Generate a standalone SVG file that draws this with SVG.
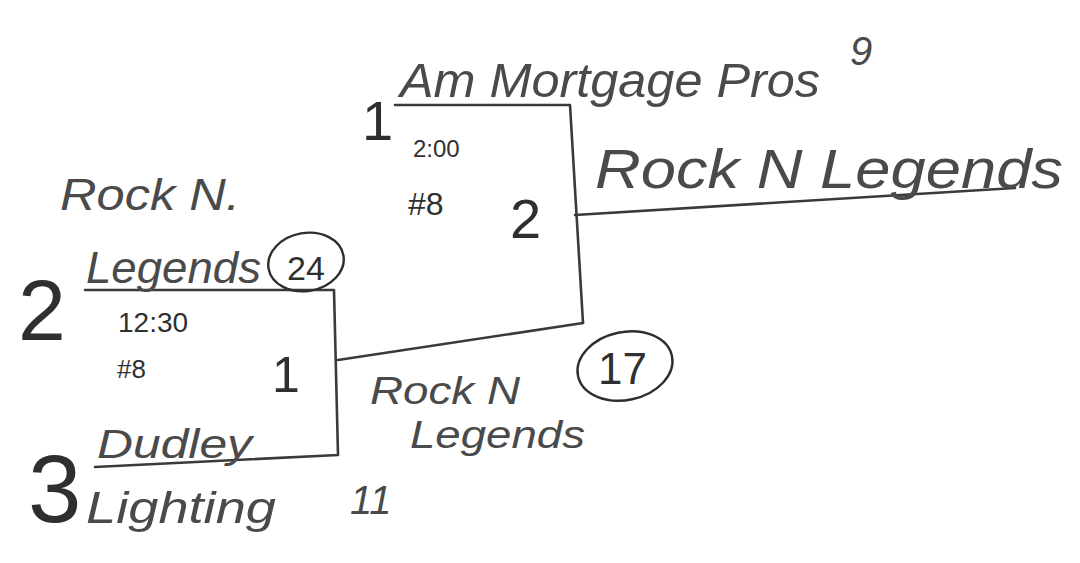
<svg xmlns="http://www.w3.org/2000/svg" width="1080" height="563" viewBox="0 0 1080 563">
<style>
.bg{fill:#ffffff}
.ln{fill:none;stroke:#3a3a3a;stroke-width:2.6;stroke-linecap:round;stroke-linejoin:round}
.ring{fill:none;stroke:#2e2e2e;stroke-width:2.4}
.t{font-family:"Liberation Sans","DejaVu Sans",sans-serif;fill:#4a4a4a;font-style:italic}
.n{font-family:"Liberation Sans","DejaVu Sans",sans-serif;fill:#2f2f2f}
</style>
<rect class="bg" x="0" y="0" width="1080" height="563"/>
<g id="connectors">
<polyline class="ln" points="85,290 334,290 338,455 95,467"/>
<line class="ln" x1="338" y1="360" x2="583" y2="323"/>
<polyline class="ln" points="395,105 570,105 583,323"/>
<line class="ln" x1="575" y1="215" x2="1015" y2="188"/>
</g>
<g id="team-rock-n-legends-1">
<text class="t" x="60" y="210" font-size="44" textLength="180" lengthAdjust="spacingAndGlyphs">Rock N.</text>
<text class="t" x="86" y="283" font-size="44" textLength="175" lengthAdjust="spacingAndGlyphs">Legends</text>
<text class="n" x="18" y="340" font-size="86">2</text>
<ellipse class="ring" cx="306" cy="262" rx="38" ry="29" transform="rotate(-10 306 262)"/>
<text class="n" x="287" y="280" font-size="34">24</text>
</g>
<g id="game-1">
<text class="n" x="118" y="332" font-size="28">12:30</text>
<text class="n" x="117" y="378" font-size="26">#8</text>
<text class="n" x="272" y="392" font-size="50">1</text>
</g>
<g id="team-dudley-lighting">
<text class="n" x="28" y="522" font-size="96">3</text>
<text class="t" x="97" y="458" font-size="40" textLength="155" lengthAdjust="spacingAndGlyphs">Dudley</text>
<text class="t" x="86" y="523" font-size="44" textLength="190" lengthAdjust="spacingAndGlyphs">Lighting</text>
<text class="t" x="350" y="514" font-size="40">11</text>
</g>
<g id="team-rock-n-legends-2">
<text class="t" x="370" y="404" font-size="38" textLength="150" lengthAdjust="spacingAndGlyphs">Rock N</text>
<text class="t" x="410" y="448" font-size="38" textLength="175" lengthAdjust="spacingAndGlyphs">Legends</text>
<ellipse class="ring" cx="625" cy="366" rx="48" ry="34" transform="rotate(-12 625 366)"/>
<text class="n" x="598" y="384" font-size="44">17</text>
</g>
<g id="team-am-mortgage-pros">
<text class="n" x="362" y="140" font-size="56">1</text>
<text class="t" x="400" y="97" font-size="48" textLength="420" lengthAdjust="spacingAndGlyphs">Am Mortgage Pros</text>
<text class="t" x="850" y="65" font-size="40">9</text>
</g>
<g id="game-2">
<text class="n" x="413" y="157" font-size="24">2:00</text>
<text class="n" x="408" y="215" font-size="32">#8</text>
<text class="n" x="510" y="238" font-size="56">2</text>
</g>
<g id="winner-rock-n-legends">
<text class="t" x="595" y="188" font-size="56" textLength="468" lengthAdjust="spacingAndGlyphs">Rock N Legends</text>
</g>
</svg>
